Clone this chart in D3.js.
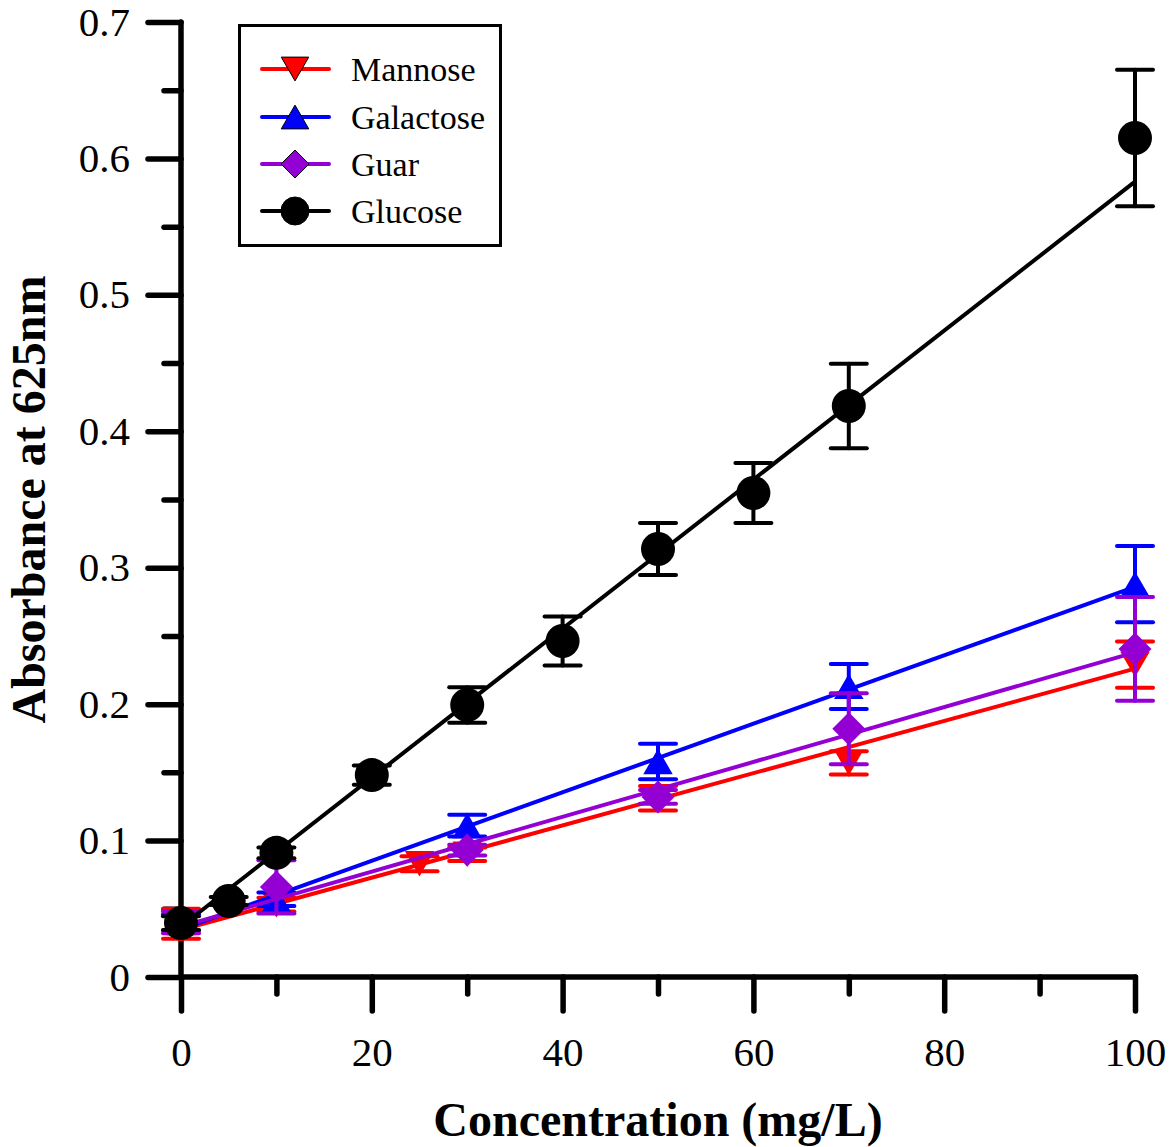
<!DOCTYPE html>
<html>
<head>
<meta charset="utf-8">
<script src="https://cdn.jsdelivr.net/npm/d3@7"></script>
<style>
  html, body { margin: 0; padding: 0; background: #fff; }
  svg { display: block; }
</style>
</head>
<body>
<svg id="chart" width="1175" height="1147"></svg>
<script>
// ---- data ----
const seriesNames = ["Mannose", "Galactose", "Guar", "Glucose"];

const mannoseX   = [0, 10, 25, 30, 50, 70, 100];
const mannoseY   = [0.039, 0.053, 0.083, 0.090, 0.131, 0.157, 0.229];
const mannoseErr = [0.011, 0.005, 0.0055, 0.005, 0.009, 0.0085, 0.017];

const galactoseX   = [0, 10, 30, 50, 70, 100];
const galactoseY   = [0.040, 0.057, 0.111, 0.158, 0.213, 0.288];
const galactoseErr = [0.006, 0.005, 0.008, 0.013, 0.0165, 0.028];

const guarX   = [0, 10, 30, 50, 70, 100];
const guarY   = [0.040, 0.066, 0.093, 0.132, 0.182, 0.2405];
const guarErr = [0.008, 0.0195, 0.004, 0.005, 0.026, 0.038];

const glucoseX   = [0, 5, 10, 20, 30, 40, 50, 60, 70, 100];
const glucoseY   = [0.0395, 0.0557, 0.091, 0.148, 0.1994, 0.2463, 0.3137, 0.3548, 0.4185, 0.615];
const glucoseErr = [0.005, 0.003, 0.004, 0.007, 0.013, 0.018, 0.019, 0.022, 0.031, 0.05];

// linear fit lines (endpoints)
const fitX          = [0, 100];
const mannoseFitY   = [0.0345, 0.226];
const galactoseFitY = [0.035, 0.286];
const guarFitY      = [0.037, 0.238];
const glucoseFitY   = [0.037, 0.583];

const xMajorTicks = [0, 20, 40, 60, 80, 100];
const xMinorTicks = [10, 30, 50, 70, 90];
const yMajorTicks = [0, 0.1, 0.2, 0.3, 0.4, 0.5, 0.6, 0.7];
const yMinorTicks = [0.05, 0.15, 0.25, 0.35, 0.45, 0.55, 0.65];

const xTitle = "Concentration (mg/L)";
const yTitle = "Absorbance at 625nm";

// ---- build ----
const series = [
  { name: "Mannose",   xs: mannoseX,   ys: mannoseY,   err: mannoseErr,   fit: mannoseFitY,   color: "#ff0000", shape: "down" },
  { name: "Galactose", xs: galactoseX, ys: galactoseY, err: galactoseErr, fit: galactoseFitY, color: "#0000ff", shape: "up" },
  { name: "Guar",      xs: guarX,      ys: guarY,      err: guarErr,      fit: guarFitY,      color: "#9400d3", shape: "diamond" },
  { name: "Glucose",   xs: glucoseX,   ys: glucoseY,   err: glucoseErr,   fit: glucoseFitY,   color: "#000000", shape: "circle" }
];

const svg = d3.select("#chart");
const font = "'Liberation Serif', 'Times New Roman', Times, serif";

const x = d3.scaleLinear().domain([0, 100]).range([181, 1135]);
const y = d3.scaleLinear().domain([0, 0.7]).range([977, 22]);

function markerPath(shape, s) {
  const p = d3.path();
  if (shape === "circle") {
    p.arc(0, 0, s / 2, 0, 2 * Math.PI);
  } else if (shape === "down") {
    const w = s * 0.95, h = s * 0.82;
    p.moveTo(-w / 2, -h / 2); p.lineTo(w / 2, -h / 2); p.lineTo(0, h / 2); p.closePath();
  } else if (shape === "up") {
    const w = s * 0.95, h = s * 0.82;
    p.moveTo(-w / 2, h / 2); p.lineTo(w / 2, h / 2); p.lineTo(0, -h / 2); p.closePath();
  } else if (shape === "diamond") {
    const w = s * 0.5;
    p.moveTo(0, -w); p.lineTo(w, 0); p.lineTo(0, w); p.lineTo(-w, 0); p.closePath();
  }
  return p.toString();
}
const plotSize = { circle: 34, down: 31, up: 31, diamond: 33 };

// ---- axes ----
const axes = svg.append("g").attr("stroke", "#000").attr("stroke-width", 5.5).attr("stroke-linecap", "round");

// x axis
const xAxisG = svg.append("g").attr("transform", `translate(0,${y(0)})`)
  .call(d3.axisBottom(x).tickValues(xMajorTicks).tickSize(34).tickSizeOuter(0).tickPadding(26).tickFormat(d3.format("d")));
xAxisG.select(".domain").remove();
xAxisG.selectAll(".tick line").attr("stroke-width", 5.5).attr("stroke-linecap", "round");
xAxisG.selectAll(".tick text").attr("font-family", font).attr("font-size", 41).attr("fill", "#000");
const xMinorG = svg.append("g").attr("transform", `translate(0,${y(0)})`)
  .call(d3.axisBottom(x).tickValues(xMinorTicks).tickSize(17).tickSizeOuter(0).tickFormat(""));
xMinorG.select(".domain").remove();
xMinorG.selectAll(".tick line").attr("stroke-width", 5.5).attr("stroke-linecap", "round");

// y axis
const yAxisG = svg.append("g").attr("transform", `translate(${x(0)},0)`)
  .call(d3.axisLeft(y).tickValues(yMajorTicks).tickSize(33).tickSizeOuter(0).tickPadding(18)
    .tickFormat(d => d === 0 ? "0" : d3.format(".1f")(d)));
yAxisG.select(".domain").remove();
yAxisG.selectAll(".tick line").attr("stroke-width", 5.5).attr("stroke-linecap", "round");
yAxisG.selectAll(".tick text").attr("font-family", font).attr("font-size", 41).attr("fill", "#000");
const yMinorG = svg.append("g").attr("transform", `translate(${x(0)},0)`)
  .call(d3.axisLeft(y).tickValues(yMinorTicks).tickSize(17).tickSizeOuter(0).tickFormat(""));
yMinorG.select(".domain").remove();
yMinorG.selectAll(".tick line").attr("stroke-width", 5.5).attr("stroke-linecap", "round");

// domain lines
axes.append("line").attr("x1", x(0)).attr("x2", x(100)).attr("y1", y(0)).attr("y2", y(0));
axes.append("line").attr("x1", x(0)).attr("x2", x(0)).attr("y1", y(0)).attr("y2", y(0.7));

// axis titles
svg.append("text").attr("x", 658).attr("y", 1136)
  .attr("text-anchor", "middle").attr("font-family", font).attr("font-weight", "bold")
  .attr("font-size", 48).text(xTitle);
svg.append("text").attr("transform", `translate(45,${(y(0) + y(0.7)) / 2 + 0}) rotate(-90)`)
  .attr("text-anchor", "middle").attr("font-family", font).attr("font-weight", "bold")
  .attr("font-size", 48).text(yTitle);

// ---- series ----
const line = d3.line().x(d => x(d[0])).y(d => y(d[1]));
const capHalf = 18;

series.forEach(s => {
  const g = svg.append("g");
  const pts = s.xs.map((xv, i) => ({ x: xv, y: s.ys[i], e: s.err[i] }));
  g.append("path").datum(fitX.map((xv, i) => [xv, s.fit[i]]))
    .attr("d", line).attr("fill", "none").attr("stroke", s.color).attr("stroke-width", 4);
  const eb = g.append("g").attr("stroke", s.color).attr("stroke-width", 4).attr("stroke-linecap", "round");
  eb.selectAll("line.v").data(pts).join("line").attr("class", "v")
    .attr("x1", d => x(d.x)).attr("x2", d => x(d.x))
    .attr("y1", d => y(d.y - d.e)).attr("y2", d => y(d.y + d.e));
  eb.selectAll("line.t").data(pts).join("line").attr("class", "t")
    .attr("x1", d => x(d.x) - capHalf).attr("x2", d => x(d.x) + capHalf)
    .attr("y1", d => y(d.y + d.e)).attr("y2", d => y(d.y + d.e));
  eb.selectAll("line.b").data(pts).join("line").attr("class", "b")
    .attr("x1", d => x(d.x) - capHalf).attr("x2", d => x(d.x) + capHalf)
    .attr("y1", d => y(d.y - d.e)).attr("y2", d => y(d.y - d.e));
  g.selectAll("path.m").data(pts).join("path").attr("class", "m")
    .attr("transform", d => `translate(${x(d.x)},${y(d.y)})`)
    .attr("d", markerPath(s.shape, plotSize[s.shape]))
    .attr("fill", s.color);
});

// ---- legend ----
const leg = svg.append("g");
leg.append("rect").attr("x", 239.5).attr("y", 25.5).attr("width", 261).attr("height", 220)
  .attr("fill", "#fff").attr("stroke", "#000").attr("stroke-width", 3);
const legRowY = [69, 117, 164, 211];
const legSize = { circle: 28, down: 29, up: 29, diamond: 28 };
series.forEach((s, i) => {
  const yy = legRowY[i];
  leg.append("line").attr("x1", 262).attr("x2", 329).attr("y1", yy).attr("y2", yy)
    .attr("stroke", s.color).attr("stroke-width", 4).attr("stroke-linecap", "round");
  leg.append("path").attr("transform", `translate(295,${yy})`)
    .attr("d", markerPath(s.shape, legSize[s.shape]))
    .attr("fill", s.color).attr("stroke", "#000").attr("stroke-width", 1);
  leg.append("text").attr("x", 351).attr("y", yy + 12)
    .attr("font-family", font).attr("font-size", 34).attr("fill", "#000").text(s.name);
});
</script>
</body>
</html>
